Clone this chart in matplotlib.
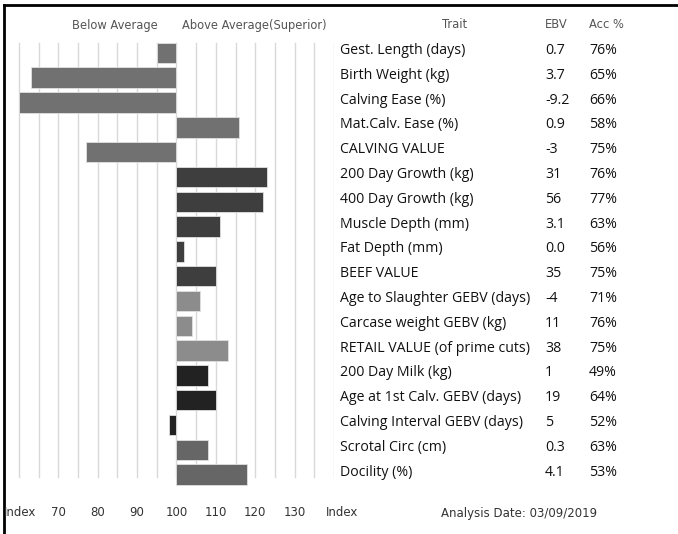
import matplotlib.pyplot as plt
from matplotlib.lines import Line2D
import matplotlib.transforms as mtransforms

traits = ['Gest. Length (days)', 'Birth Weight (kg)', 'Calving Ease (%)', 'Mat.Calv. Ease (%)',
          'CALVING VALUE', '200 Day Growth (kg)', '400 Day Growth (kg)', 'Muscle Depth (mm)',
          'Fat Depth (mm)', 'BEEF VALUE', 'Age to Slaughter GEBV (days)', 'Carcase weight GEBV (kg)',
          'RETAIL VALUE (of prime cuts)', '200 Day Milk (kg)', 'Age at 1st Calv. GEBV (days)',
          'Calving Interval GEBV (days)', 'Scrotal Circ (cm)', 'Docility (%)']
ebv = ['0.7', '3.7', '-9.2', '0.9', '-3', '31', '56', '3.1', '0.0', '35', '-4', '11', '38',
       '1', '19', '5', '0.3', '4.1']
acc = ['76%', '65%', '66%', '58%', '75%', '76%', '77%', '63%', '56%', '75%', '71%', '76%',
       '75%', '49%', '64%', '52%', '63%', '53%']
index = [95, 63, 60, 116, 77, 123, 122, 111, 102, 110, 106, 104, 113, 108, 110, 98, 108, 118]
colors = ['#717171'] * 5 + ['#3e3e3e'] * 5 + ['#8c8c8c'] * 3 + ['#222222'] * 3 + ['#666666'] * 2
ticks = [70, 80, 90, 100, 110, 120, 130]

W, H = 678, 534
fig = plt.figure(figsize=(W / 100, H / 100), dpi=100)

# bar axes: pixel x 4..334, y 5..534
ax = fig.add_axes([4 / W, 0, 330 / W, 1 - 5 / H])
ax.set_xlim(56.2, 140)
ax.set_ylim(19.395, -1.935)
for s in ['top', 'right', 'bottom']:
    ax.spines[s].set_visible(False)
ax.spines['left'].set_linewidth(2)
ax.set_xticks([])
ax.set_yticks([])

# grid lines
for g in range(60, 141, 5):
    ax.plot([g, g], [-0.41, 17.1], color='#d9d9d9', lw=1, zorder=0)

rows = list(range(len(traits)))
lefts = [min(v, 100) for v in index]
widths = [abs(v - 100) for v in index]
ax.barh(rows, widths, left=lefts, height=0.83, color=colors,
        edgecolor='#e0e0e0', linewidth=0.6, zorder=2)

# border lines
fig.add_artist(Line2D([4 / W, 1], [1 - 5 / H, 1 - 5 / H], color='black', lw=2))

hdr = dict(fontsize=8.3, color='#555555', family='DejaVu Sans')
fig.text(115 / W, 1 - 26 / H, 'Below Average', ha='center', va='center', **hdr)
fig.text(254 / W, 1 - 26 / H, 'Above Average(Superior)', ha='center', va='center', **hdr)
fig.text(455 / W, 1 - 25 / H, 'Trait', ha='center', va='center', **hdr)
fig.text(545 / W, 1 - 25 / H, 'EBV', ha='left', va='center', **hdr)
fig.text(589 / W, 1 - 25 / H, 'Acc %', ha='left', va='center', **hdr)

# table rows
tr = mtransforms.blended_transform_factory(fig.transFigure, ax.transData)
tf = dict(fontsize=10.2, color='#111111', family='Open Sans', va='center', transform=tr)
for i in rows:
    fig.text(340 / W, i - 0.1, traits[i], ha='left', **tf)
    fig.text(545 / W, i - 0.1, ebv[i], ha='left', **tf)
    fig.text(589 / W, i - 0.1, acc[i], ha='left', **tf)

# bottom index labels
bt = mtransforms.blended_transform_factory(ax.transData, fig.transFigure)
lab = dict(fontsize=8.5, color='#333333', family='DejaVu Sans', va='center')
fig.text(4 / W, 1 - 513 / H, 'Index', ha='left', **lab)
for t in ticks:
    fig.text(t, 1 - 513 / H, str(t), ha='center', transform=bt, **lab)
fig.text(326 / W, 1 - 513 / H, 'Index', ha='left', **lab)
fig.text(441 / W, 1 - 513 / H, 'Analysis Date: 03/09/2019', ha='left', **lab)

fig.savefig('out.png', dpi=100)
